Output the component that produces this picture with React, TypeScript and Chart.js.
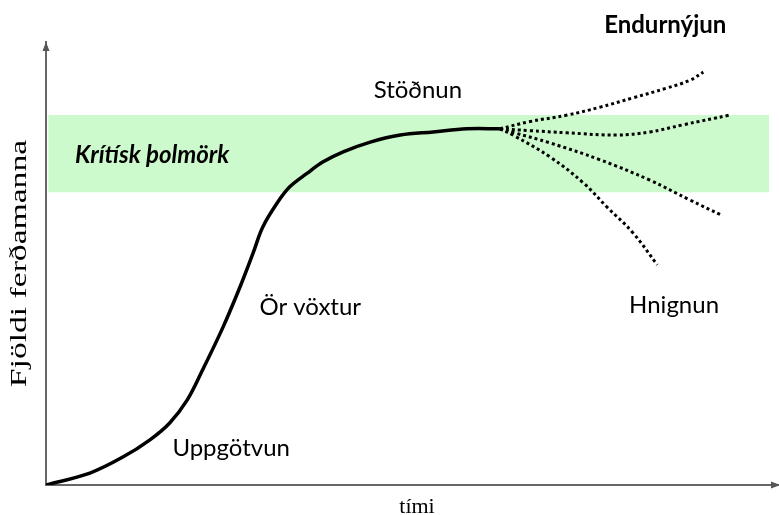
import React, { useEffect, useRef } from "react";
import { Chart, registerables } from "chart.js";

Chart.register(...registerables);

// Main life-cycle curve (time, number of tourists)
const curveX = [0, 6.0, 10.5, 14.2, 16.9, 19.3, 21.4, 24.2, 26.5, 28.3, 29.6, 31.6, 33.3, 35.7, 37.8, 40.6, 44.3, 48.4, 52.9, 57.5, 62.0];
const curveY = [0, 2.7, 6.3, 10.2, 14.0, 19.2, 26.0, 35.7, 44.7, 52.4, 58.2, 63.7, 67.3, 70.4, 72.9, 75.2, 77.4, 79.0, 79.7, 80.4, 80.4];

// Dotted branches after stagnation
const branch1X = [62.0, 66.0, 71.2, 75.7, 80.2, 84.8, 88.0, 89.8];
const branch1Y = [80.4, 82.0, 83.5, 85.3, 87.4, 89.6, 91.4, 93.2];
const branch2X = [62.0, 66.0, 71.2, 78.0, 82.5, 87.0, 93.4];
const branch2Y = [80.4, 80.0, 79.5, 79.0, 79.7, 81.3, 83.5];
const branch3X = [62.0, 64.0, 68.9, 75.7, 82.5, 88.0, 92.3];
const branch3Y = [80.4, 79.5, 77.2, 73.4, 68.8, 64.3, 60.9];
const branch4X = [62.0, 64.0, 68.9, 73.4, 76.6, 80.2, 83.5];
const branch4Y = [80.4, 78.8, 74.0, 68.2, 62.8, 56.9, 49.7];

// Critical capacity band
const bandX = [0.3, 98.8];
const bandLow = 66.1;
const bandHigh = 83.5;

// Texts
const stageLabels = ["Uppgötvun", "Ör vöxtur", "Stöðnun", "Hnignun", "Endurnýjun"];
const bandLabel = "Krítísk þolmörk";
const xTitle = "tími";
const yTitle = "Fjöldi ferðamanna";

const pts = (xs: number[], ys: number[]) => xs.map((x, i) => ({ x, y: ys[i] }));

export default function App() {
  const ref = useRef<HTMLCanvasElement | null>(null);

  useEffect(() => {
    if (!ref.current) return;

    const stagePos = [
      [25.3, 8.4],
      [36.1, 40.2],
      [50.8, 89.2],
      [85.8, 40.6],
      [84.6, 103.8],
    ];

    const textPlugin = {
      id: "lifeCycleText",
      afterDraw(chart: any) {
        const { ctx, chartArea, scales } = chart;
        const sx = scales.x;
        const sy = scales.y;
        ctx.save();
        ctx.fillStyle = "#000";
        ctx.textAlign = "center";
        ctx.textBaseline = "middle";
        // stage labels
        stageLabels.forEach((t, i) => {
          const bold = i === 4;
          ctx.font = (bold ? "bold 24px " : "24px ") + "Lato, 'Liberation Sans', sans-serif";
          ctx.fillText(t, sx.getPixelForValue(stagePos[i][0]), sy.getPixelForValue(stagePos[i][1]));
        });
        ctx.font = "italic bold 24px Lato, 'Liberation Sans', sans-serif";
        ctx.fillText(bandLabel, sx.getPixelForValue(14.5), sy.getPixelForValue(74.5));

        // axis titles
        ctx.font = "22px 'Liberation Serif', 'Times New Roman', serif";
        ctx.fillText(xTitle, (chartArea.left + chartArea.right) / 2 + 5, chartArea.bottom + 22);
        ctx.save();
        ctx.translate(chartArea.left - 26, (chartArea.top + chartArea.bottom) / 2);
        ctx.rotate(-Math.PI / 2);
        ctx.scale(1.4, 1);
        ctx.font = "24px 'Liberation Serif', 'Times New Roman', serif";
        ctx.fillText(yTitle, 0, 0);
        ctx.restore();

        // arrow heads
        ctx.fillStyle = "#555";
        ctx.beginPath();
        ctx.moveTo(chartArea.left, chartArea.top);
        ctx.lineTo(chartArea.left - 3.5, chartArea.top + 9);
        ctx.lineTo(chartArea.left + 3.5, chartArea.top + 9);
        ctx.closePath();
        ctx.fill();
        ctx.beginPath();
        ctx.moveTo(chartArea.right + 2, chartArea.bottom);
        ctx.lineTo(chartArea.right - 7, chartArea.bottom - 3.5);
        ctx.lineTo(chartArea.right - 7, chartArea.bottom + 3.5);
        ctx.closePath();
        ctx.fill();
        ctx.restore();
      },
    };

    const dotted = (xs: number[], ys: number[]) => ({
      data: pts(xs, ys),
      borderColor: "#000",
      borderWidth: 3,
      borderDash: [3, 3],
      pointRadius: 0,
      tension: 0.4,
      fill: false,
      order: 1,
    });

    const chart = new Chart(ref.current, {
      type: "line",
      data: {
        datasets: [
          {
            data: pts(curveX, curveY),
            borderColor: "#000",
            borderWidth: 3.5,
            pointRadius: 0,
            tension: 0.35,
            fill: false,
            order: 0,
          },
          dotted(branch1X, branch1Y),
          dotted(branch2X, branch2Y),
          dotted(branch3X, branch3Y),
          dotted(branch4X, branch4Y),
          {
            data: pts(bandX, [bandHigh, bandHigh]),
            borderWidth: 0,
            borderColor: "rgba(0,0,0,0)",
            backgroundColor: "rgb(204,250,204)",
            pointRadius: 0,
            fill: { value: bandLow },
            order: 10,
          },
        ],
      } as any,
      options: {
        responsive: false,
        animation: false,
        events: [],
        layout: { padding: { left: 46, top: 42, right: 1, bottom: 30 } },
        plugins: {
          legend: { display: false },
          tooltip: { enabled: false },
          filler: { drawTime: "beforeDatasetsDraw" } as any,
        },
        scales: {
          x: {
            type: "linear",
            min: 0,
            max: 100,
            ticks: { display: false },
            grid: { display: false, drawTicks: false },
            border: { display: true, color: "#666", width: 2 },
          },
          y: {
            type: "linear",
            min: 0,
            max: 100,
            ticks: { display: false },
            grid: { display: false, drawTicks: false },
            border: { display: true, color: "#666", width: 2 },
          },
        },
      } as any,
      plugins: [textPlugin],
    });

    return () => chart.destroy();
  }, []);

  return (
    <div style={{ position: "absolute", left: 0, top: 0, width: 779, height: 515, background: "#fff" }}>
      <canvas ref={ref} width={779} height={515} style={{ display: "block" }} />
    </div>
  );
}
